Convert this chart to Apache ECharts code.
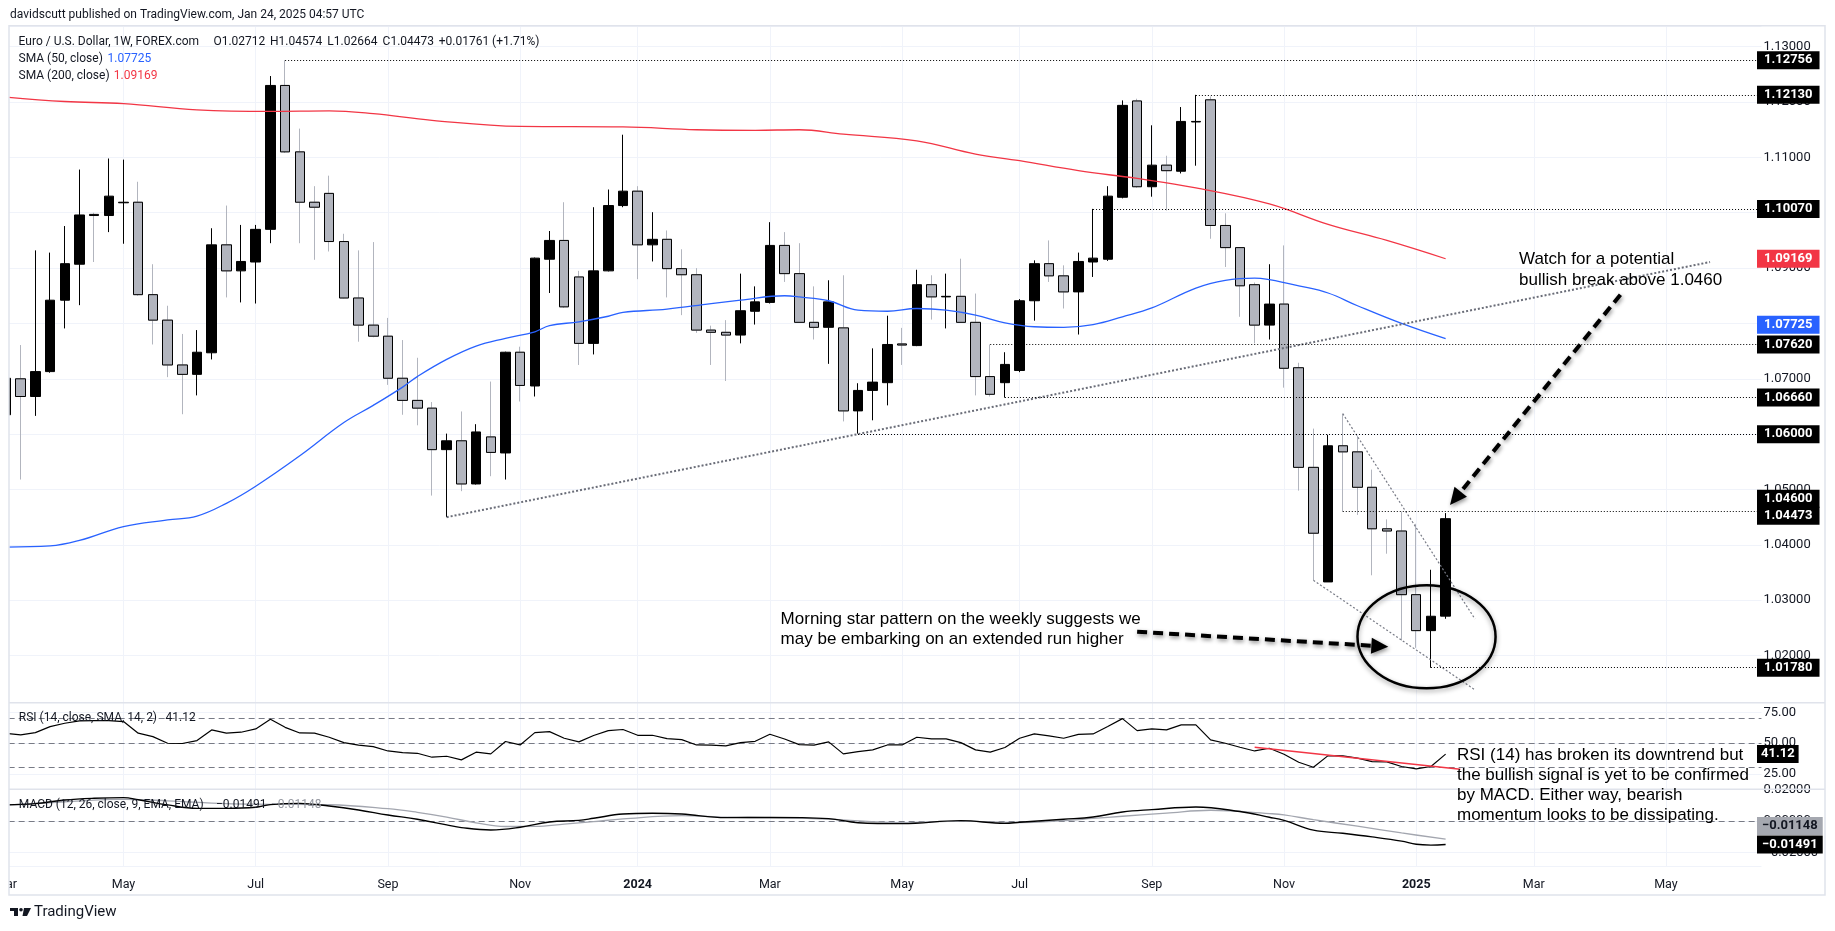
<!DOCTYPE html>
<html>
<head>
<meta charset="utf-8">
<title>EUR/USD 1W</title>
<script src="https://cdn.jsdelivr.net/npm/echarts@6/dist/echarts.min.js"></script>
<style>
  html, body { margin: 0; padding: 0; background: #ffffff; }
  #chart { width: 1835px; height: 931px; }
</style>
</head>
<body>
<div id="chart"></div>
<script>
// weekly candles, first one starts Mon 2023-03-06
const firstWeek = "2023-03-06";
const slotCount = 120;

const opens = [1.0635,1.0700,1.0668,1.0713,1.0842,1.0907,1.0997,1.0995,1.1018,1.1019,
  1.0852,1.0806,1.0725,1.0708,1.0747,1.0942,1.0895,1.0911,1.0970,1.1230,
  1.1110,1.1019,1.1035,1.0948,1.0846,1.0797,1.0777,1.0701,1.0661,1.0647,
  1.0572,1.0588,1.0510,1.0595,1.0566,1.0748,1.0687,1.0916,1.0950,1.0884,
  1.0764,1.0895,1.1013,1.1039,1.0942,1.0952,1.0899,1.0888,1.0788,1.0784,
  1.0779,1.0822,1.0838,1.0941,1.0890,1.0802,1.0793,1.0792,1.0642,1.0679,
  1.0693,1.0763,1.0760,1.0870,1.0848,1.0849,1.0802,1.0704,1.0693,1.0715,
  1.0841,1.0908,1.0886,1.0857,1.0911,1.0916,1.1028,1.1202,1.1047,1.1086,
  1.1075,1.1164,1.1204,1.0977,1.0937,1.0870,1.0797,1.0835,1.0720,1.0540,
  1.0333,1.0579,1.0568,1.0504,1.0429,1.0425,1.0310,1.0245,1.02712];
const highs = [1.0706,1.0761,1.0932,1.0928,1.0976,1.1078,1.1000,1.1098,1.1096,1.1056,
  1.0907,1.0832,1.0781,1.0788,1.0972,1.1013,1.0978,1.0978,1.1247,1.12756,
  1.1152,1.1048,1.1067,1.0962,1.0932,1.0947,1.0810,1.0770,1.0738,1.0658,
  1.0601,1.0641,1.0618,1.0695,1.0749,1.0758,1.0919,1.0967,1.1019,1.0895,
  1.1010,1.1042,1.1141,1.1048,1.1001,1.0968,1.0934,1.0900,1.0796,1.0806,
  1.0890,1.0867,1.0983,1.0965,1.0945,1.0867,1.0878,1.0887,1.0692,1.0755,
  1.0814,1.0792,1.0897,1.0887,1.0890,1.0917,1.0854,1.0762,1.0748,1.0844,
  1.0914,1.0950,1.0905,1.0928,1.1007,1.1048,1.1203,1.1206,1.1158,1.1103,
  1.1191,1.1213,1.1210,1.0999,1.0938,1.0874,1.0907,1.0941,1.0729,1.0610,
  1.0599,1.0637,1.0597,1.0536,1.0446,1.0460,1.0438,1.0355,1.04574];
const lows = [1.0600,1.0518,1.0633,1.0711,1.0791,1.0833,1.0911,1.0965,1.0944,1.0850,
  1.0762,1.0703,1.0636,1.0670,1.0735,1.0847,1.0838,1.0836,1.0945,1.1108,
  1.0945,1.0915,1.0930,1.0845,1.0767,1.0775,1.0689,1.0635,1.0616,1.0489,
  1.0450,1.0497,1.0509,1.0524,1.0518,1.0659,1.0668,1.0855,1.0828,1.0725,
  1.0744,1.0894,1.1010,1.0880,1.0912,1.0847,1.0815,1.0783,1.0725,1.0696,
  1.0764,1.0798,1.0836,1.0875,1.0801,1.0771,1.0727,1.0623,1.0601,1.0625,
  1.0652,1.0725,1.0759,1.0807,1.0791,1.0801,1.0670,1.0668,1.0666,1.0712,
  1.0805,1.0875,1.0827,1.0780,1.0884,1.0913,1.1026,1.1045,1.1029,1.1004,
  1.1071,1.1085,1.0953,1.0902,1.0812,1.0764,1.0771,1.0684,1.0498,1.0336,
  1.0333,1.0460,1.0454,1.0345,1.0384,1.0227,1.0214,1.0178,1.02664];
const closes = [1.0701,1.0668,1.0713,1.0842,1.0908,1.0996,1.0995,1.1030,1.1019,1.0852,
  1.0806,1.0725,1.0708,1.0748,1.0942,1.0895,1.0912,1.0970,1.1230,1.1110,
  1.1019,1.1010,1.0948,1.0846,1.0797,1.0777,1.0701,1.0661,1.0647,1.0572,
  1.0588,1.0510,1.0604,1.0567,1.0748,1.0688,1.0918,1.0950,1.0830,1.0764,
  1.0895,1.1013,1.1039,1.0942,1.0952,1.0899,1.0888,1.0788,1.0784,1.0779,
  1.0823,1.0839,1.0941,1.0890,1.0802,1.0793,1.0839,1.0642,1.0679,1.0694,
  1.0762,1.0761,1.0870,1.0848,1.0849,1.0802,1.0704,1.0672,1.0726,1.0841,
  1.0908,1.0886,1.0857,1.0912,1.0918,1.1030,1.1194,1.1047,1.1086,1.1076,
  1.1165,1.1165,1.0977,1.0937,1.0868,1.0797,1.0835,1.0719,1.0540,1.0421,
  1.0579,1.0568,1.0504,1.0429,1.0425,1.0310,1.0245,1.0271,1.04473];

// [week index, value]
const sma50 = [[0,1.0396],[3,1.0398],[5,1.0408],[8,1.0433],[11,1.0445],[13,1.0452],[15,1.0475],
  [17,1.0506],[20,1.0561],[23,1.0621],[25,1.0652],[27,1.0685],[28,1.0704],[30,1.0735],[32,1.0759],
  [34,1.0773],[36,1.0785],[37,1.0796],[39,1.0803],[41,1.0813],[42,1.0820],[45,1.0826],[48,1.0836],
  [50,1.0842],[53,1.0850],[54,1.0848],[56,1.0841],[58,1.0824],[60,1.0822],[62,1.0827],[64,1.0824],
  [66,1.0815],[68,1.0801],[70,1.0794],[72,1.0793],[74,1.0798],[76,1.0812],[78,1.0828],[81,1.0864],
  [83,1.0878],[85,1.0882],[86,1.0879],[88,1.0868],[90,1.0855],[92,1.0832],[95,1.0800],[98,1.07725]];
const sma200 = [[0,1.1209],[4,1.1201],[8,1.1197],[13,1.1186],[18,1.1183],[22,1.1184],[25,1.1179],
  [29,1.1167],[35,1.1156],[42,1.1155],[47,1.1150],[51,1.1149],[54,1.1150],[57,1.1142],[62,1.1130],
  [66,1.1106],[69,1.1094],[73,1.1076],[77,1.1062],[81,1.1045],[86,1.1016],[90,1.0979],[94,1.0950],
  [98,1.09169]];

const rsi = [58.0,56.8,58.7,63.6,66.3,68.2,68.5,68.5,67.7,58.2,
  55.4,50.0,49.8,52.2,60.9,58.2,59.0,61.7,69.6,63.0,
  58.4,58.2,54.9,50.5,48.4,47.3,43.7,42.4,41.8,38.6,
  39.4,36.4,42.7,41.3,51.4,48.6,58.7,59.5,54.1,51.1,
  56.3,60.3,61.2,56.5,56.5,53.8,53.0,48.6,48.4,47.8,
  50.5,51.6,57.3,53.5,48.9,48.4,51.1,41.3,43.2,44.6,
  48.6,48.6,54.9,53.5,53.5,50.5,44.6,42.7,46.5,54.1,
  57.6,56.0,54.1,57.3,57.6,63.6,70.1,60.3,61.7,60.9,
  65.0,65.0,52.7,50.0,46.7,43.7,45.9,41.0,34.5,30.4,
  39.9,39.7,37.8,35.0,34.8,31.0,29.0,31.0,41.12];

const macdLine = [[0,0.0102],[2,0.0110],[4,0.0133],[6,0.0144],[8,0.0148],[9,0.0135],[11,0.0102],
  [13,0.0080],[15,0.0080],[17,0.0087],[18,0.0104],[20,0.0112],[22,0.0095],[24,0.0070],[26,0.0038],
  [28,0.0011],[30,-0.0025],[31,-0.0042],[33,-0.0057],[35,-0.0040],[37,-0.0006],[39,0.0004],
  [40,0.0017],[42,0.0044],[44,0.0049],[46,0.0044],[49,0.0021],[52,0.0023],[56,0.0015],[58,-0.0011],
  [61,-0.0017],[65,0.0002],[68,-0.0015],[69,-0.0008],[72,0.0011],[74,0.0025],[76,0.0057],[78,0.0072],
  [81,0.0089],[84,0.0060],[86,0.0024],[87,0.0004],[89,-0.0058],[91,-0.0078],[93,-0.0101],
  [95,-0.0128],[96,-0.0148],[97,-0.0153],[98,-0.01491]];
const macdSignal = [[0,0.0100],[4,0.0122],[8,0.0137],[11,0.0128],[15,0.0110],[18,0.0106],[22,0.0103],
  [26,0.0078],[28,0.0055],[30,0.0025],[32,-0.0012],[34,-0.0035],[36,-0.0034],[38,-0.0020],
  [40,-0.0004],[42,0.0013],[46,0.0034],[49,0.0024],[52,0.0021],[56,0.0012],[61,-0.0010],
  [65,-0.0001],[69,-0.0010],[72,0.0002],[74,0.0016],[76,0.0030],[79,0.0050],[82,0.0068],
  [86,0.0047],[87,0.0039],[89,0.0008],[92,-0.0033],[95,-0.0076],[98,-0.01148]];

// drawn annotations, in [week index, value]
const trendLong = [[30,1.0450],[116,1.0911]];
const wedgeUpper = [[91,1.0637],[100,1.0266]];
const wedgeLower = [[89,1.0336],[100,1.0138]];
const rsiTrend = [[85,46.7],[99,28.8]];
const levelStarts = [19, 81, 74, 67, 68, 58, 91, 97];
const levelPrices = [1.12756, 1.12130, 1.10070, 1.07620, 1.06660, 1.06000, 1.04600, 1.01780];
const rsiBands = [70, 50, 30];

const monthIdx = [0, 8, 17, 26, 35, 43, 52, 61, 69, 78, 87, 96, 104, 113];
const monthText = ["Mar","May","Jul","Sep","Nov","2024","Mar","May","Jul","Sep","Nov","2025","Mar","May"];

const lastRsi = 41.12;
const lastMacd = -0.01491;
const lastSignal = -0.01148;

// ---------------------------------------------------------------
const weeks = [];
{
  const d0 = new Date(firstWeek + "T00:00:00Z");
  for (let i = 0; i < slotCount; i++) {
    const d = new Date(d0.getTime() + i * 7 * 86400000);
    weeks.push(d.toISOString().slice(0, 10));
  }
}

const candles = opens.map((o, i) => [o, closes[i], lows[i], highs[i]]);
const bearBodies = [];
opens.forEach((o, i) => {
  if (closes[i] < o) bearBodies.push([i, o, closes[i], closes[i], o]);
});

const FONT = "Roboto, 'Noto Sans', sans-serif";
const TEXT = "#131722";
const GRID_LINE = "#f0f3fa";
const BORDER = "#e0e3eb";

// pane layout (pixels)
const bw = 14.69;
const plotLeft = 6 - bw / 2;
const plotWidth = slotCount * bw;
const pricePane = { top: 26, bottom: 702.7 };
const rsiPane = { top: 702.7, bottom: 789.3 };
const macdPane = { top: 789.3, bottom: 866.7 };
const priceMin = 1.011481, priceMax = 1.13374;
const rsiMin = 12.4, rsiMax = 83.1;
const macdMin = -0.029, macdMax = 0.0201;

function fmtMinus(v, digits) {
  return (v < 0 ? "\u2212" : "") + Math.abs(v).toFixed(digits);
}

function paneGrid(p) {
  return { left: plotLeft, width: plotWidth, top: p.top, height: p.bottom - p.top,
    outerBoundsMode: "none", containLabel: false, show: false };
}

function indexAxis(gridIndex) {
  return { type: "value", gridIndex, min: -0.5, max: slotCount - 0.5, show: false };
}

function sideAxis(gridIndex, min, max, step, fmt) {
  return {
    type: "value", gridIndex, position: "right", min, max,
    minInterval: step, maxInterval: step,
    axisLine: { show: false }, axisTick: { show: false },
    splitLine: { show: true, lineStyle: { color: GRID_LINE, width: 1 } },
    axisLabel: { margin: 2, color: TEXT, fontSize: 13, fontFamily: FONT,
      showMinLabel: false, showMaxLabel: false, formatter: fmt },
  };
}

const verticalLines = monthIdx.map((i) => ({ xAxis: i, lineStyle: { color: GRID_LINE, type: "solid", width: 1 } }));

const option = {
  animation: false,
  backgroundColor: "#ffffff",
  textStyle: { fontFamily: FONT },
  grid: [paneGrid(pricePane), paneGrid(rsiPane), paneGrid(macdPane)],
  xAxis: [
    { type: "category", gridIndex: 0, data: weeks, show: false },
    indexAxis(0),
    indexAxis(1),
    {
      type: "category", gridIndex: 2, data: weeks,
      axisLine: { show: false }, axisTick: { show: false }, splitLine: { show: false },
      axisLabel: {
        margin: 12, color: TEXT, fontSize: 12.5, fontFamily: FONT,
        interval: (index) => monthIdx.includes(index),
        formatter: (value, index) => {
          const k = monthIdx.indexOf(index);
          if (k < 0) return "";
          const t = monthText[k];
          return /^\d{4}$/.test(t) ? "{y|" + t + "}" : t;
        },
        rich: { y: { fontWeight: "bold", fontSize: 12.5, color: TEXT, fontFamily: FONT } },
      },
    },
    indexAxis(2),
  ],
  yAxis: [
    sideAxis(0, priceMin, priceMax, 0.01, (v) => v.toFixed(5)),
    sideAxis(1, rsiMin, rsiMax, 25, (v) => v.toFixed(2)),
    sideAxis(2, macdMin, macdMax, 0.02, (v) => fmtMinus(v, 5)),
  ],
  series: [
    {
      type: "candlestick", name: "EURUSD", xAxisIndex: 0, yAxisIndex: 0,
      data: candles, barWidth: 10, z: 2,
      itemStyle: { color: "#000000", color0: "#b2b5be", borderColor: "#000000", borderColor0: "#b2b5be", borderWidth: 1 },
    },
    {
      type: "candlestick", name: "bear bodies", xAxisIndex: 0, yAxisIndex: 0,
      data: bearBodies, encode: { x: 0, y: [1, 2, 3, 4] }, barWidth: 10, z: 3,
      itemStyle: { color: "#000000", color0: "#b2b5be", borderColor: "#000000", borderColor0: "#000000", borderWidth: 1 },
    },
    {
      type: "line", name: "SMA 200", xAxisIndex: 1, yAxisIndex: 0, data: sma200,
      showSymbol: false, smooth: 0.4, z: 4, lineStyle: { color: "#f23645", width: 1.3 },
      markLine: {
        silent: true, symbol: ["none", "none"], label: { show: false },
        data: levelPrices.map((p, k) => [
          { coord: [levelStarts[k], p], lineStyle: { color: "#000000", type: [1, 2], width: 1 } },
          { coord: [119.2, p] },
        ]),
      },
    },
    {
      type: "line", name: "SMA 50", xAxisIndex: 1, yAxisIndex: 0, data: sma50,
      showSymbol: false, smooth: 0.4, z: 4, lineStyle: { color: "#2962ff", width: 1.3 },
      markLine: { silent: true, z: 1, symbol: ["none", "none"], label: { show: false }, data: verticalLines },
    },
    {
      type: "line", name: "trend", xAxisIndex: 1, yAxisIndex: 0, data: trendLong,
      showSymbol: false, z: 4, lineStyle: { color: "#6a6d78", width: 2, type: [2, 2] },
    },
    {
      type: "line", name: "wedge top", xAxisIndex: 1, yAxisIndex: 0, data: wedgeUpper,
      showSymbol: false, z: 4, lineStyle: { color: "#787b86", width: 1.2, type: [2, 2] },
    },
    {
      type: "line", name: "wedge bottom", xAxisIndex: 1, yAxisIndex: 0, data: wedgeLower,
      showSymbol: false, z: 4, lineStyle: { color: "#787b86", width: 1.2, type: [2, 2] },
    },
    {
      type: "line", name: "RSI", xAxisIndex: 2, yAxisIndex: 1, data: rsi.map((v, i) => [i, v]),
      showSymbol: false, z: 3, lineStyle: { color: "#000000", width: 1.2 },
      markLine: {
        silent: true, z: 1, symbol: ["none", "none"], label: { show: false },
        data: verticalLines.concat(rsiBands.map((b) => ({ yAxis: b, lineStyle: { color: "#787b86", type: [6, 4], width: 1 } }))),
      },
    },
    {
      type: "line", name: "RSI trend", xAxisIndex: 2, yAxisIndex: 1, data: rsiTrend,
      showSymbol: false, z: 4, lineStyle: { color: "#f23645", width: 1.5 },
    },
    {
      type: "line", name: "Signal", xAxisIndex: 4, yAxisIndex: 2, data: macdSignal,
      showSymbol: false, smooth: 0.4, z: 3, lineStyle: { color: "#a3a6af", width: 1.3 },
      markLine: {
        silent: true, z: 1, symbol: ["none", "none"], label: { show: false },
        data: verticalLines.concat([{ yAxis: 0, lineStyle: { color: "#787b86", type: [6, 4], width: 1 } }]),
      },
    },
    {
      type: "line", name: "MACD", xAxisIndex: 4, yAxisIndex: 2, data: macdLine,
      showSymbol: false, smooth: 0.4, z: 4, lineStyle: { color: "#000000", width: 1.4 },
    },
  ],
};

const chart = echarts.init(document.getElementById("chart"));
chart.setOption(option);

// ---- overlays: frame, legends, price boxes, notes
const PRICE_SERIES = 2;
const toPx = (s, pt) => chart.convertToPixel({ seriesIndex: s }, pt);
const yOf = (axis, v) => chart.convertToPixel({ yAxisIndex: axis }, v);

function label(text, x, y, opts = {}) {
  return {
    type: "text", z: 120, silent: true, x, y,
    style: Object.assign({ text, fill: TEXT, font: "12px " + FONT, align: "left", verticalAlign: "middle" }, opts),
  };
}

function box(text, y, bg, fg, padX) {
  const p = padX == null ? 7 : padX;
  return {
    type: "text", z: 130, silent: true, x: 1757, y,
    style: { text, fill: fg || "#ffffff", backgroundColor: bg, padding: [3, p, 2, p],
      font: "bold 13px " + FONT, align: "left", verticalAlign: "middle" },
  };
}

function arrow(from, to) {
  const a = toPx(PRICE_SERIES, from), b = toPx(PRICE_SERIES, to);
  const dx = b[0] - a[0], dy = b[1] - a[1], len = Math.hypot(dx, dy);
  const ux = dx / len, uy = dy / len, head = 17, half = 8;
  const bx = b[0] - ux * head, by = b[1] - uy * head;
  const shadow = { shadowBlur: 4, shadowColor: "rgba(0,0,0,0.45)", shadowOffsetX: 1, shadowOffsetY: 2 };
  return [
    { type: "line", z: 110, silent: true,
      shape: { x1: a[0], y1: a[1], x2: bx + ux * 2, y2: by + uy * 2 },
      style: Object.assign({ stroke: "#000000", lineWidth: 4, lineDash: [10, 6] }, shadow) },
    { type: "polygon", z: 110, silent: true,
      shape: { points: [[b[0], b[1]], [bx - uy * half, by + ux * half], [bx + uy * half, by - ux * half]] },
      style: Object.assign({ fill: "#000000" }, shadow) },
  ];
}

const arrowNotes = [
  { from: [109.9, 1.0852], to: [98.3, 1.0472] },
  { from: [77.0, 1.0243], to: [94.1, 1.0216] },
];
const circleNote = { center: [96.7, 1.0234], rx: 4.7, ry: 0.0093 };

function buildOverlay() {
  const g = [];
  // clip strip left of the frame + frame and pane separators
  g.push({ type: "rect", z: 100, silent: true, shape: { x: 0, y: 0, width: 9, height: 931 }, style: { fill: "#ffffff" } });
  g.push({ type: "rect", z: 101, silent: true, shape: { x: 9, y: 25.7, width: 1816, height: 869.3 },
    style: { fill: "none", stroke: BORDER, lineWidth: 1.5 } });
  [pricePane.bottom, rsiPane.bottom].forEach((y) => {
    g.push({ type: "line", z: 101, silent: true, shape: { x1: 9, y1: y, x2: 1825, y2: y }, style: { stroke: BORDER, lineWidth: 1.5 } });
  });

  // header + legends
  g.push(label("davidscutt published on TradingView.com, Jan 24, 2025 04:57 UTC", 10, 15));
  g.push(label("Euro / U.S. Dollar, 1W, FOREX.com", 18.6, 42.3));
  [["O1.02712", 213.4], ["H1.04574", 270], ["L1.02664", 327.3], ["C1.04473", 382.6], ["+0.01761 (+1.71%)", 438.7]]
    .forEach(([t, x]) => g.push(label(t, x, 42.3)));
  g.push(label("SMA (50, close)", 18.6, 59));
  g.push(label(sma50[sma50.length - 1][1].toFixed(5), 107.5, 59, { fill: "#2962ff" }));
  g.push(label("SMA (200, close)", 18.6, 76));
  g.push(label(sma200[sma200.length - 1][1].toFixed(5), 113.8, 76, { fill: "#f23645" }));
  g.push(label("RSI (14, close, SMA, 14, 2)", 18.8, 718.3));
  g.push(label(lastRsi.toFixed(2), 165.5, 718.3));
  g.push(label("MACD (12, 26, close, 9, EMA, EMA)", 18.8, 805));
  g.push(label(fmtMinus(lastMacd, 5), 216, 805));
  g.push(label(fmtMinus(lastSignal, 5), 271, 805, { fill: "#9598a1" }));

  // price scale boxes
  const shifts = { "1.04600": -13 };
  levelPrices.forEach((p) => {
    const t = p.toFixed(5);
    g.push(box(t, yOf(0, p) + (shifts[t] || 0), "#000000"));
  });
  g.push(box(sma200[sma200.length - 1][1].toFixed(5), yOf(0, sma200[sma200.length - 1][1]), "#f23645"));
  g.push(box(sma50[sma50.length - 1][1].toFixed(5), yOf(0, sma50[sma50.length - 1][1]) - 14, "#2962ff"));
  g.push(box(closes[closes.length - 1].toFixed(5), yOf(0, closes[closes.length - 1]) - 3, "#000000"));
  g.push(box(lastRsi.toFixed(2), yOf(1, lastRsi), "#000000", "#ffffff", 4));
  g.push(box(fmtMinus(lastSignal, 5), yOf(2, lastSignal) - 13, "#a5a8b0", TEXT, 5));
  g.push(box(fmtMinus(lastMacd, 5), yOf(2, lastMacd), "#000000", "#ffffff", 5));

  // notes
  const noteFont = "17px 'Liberation Sans', Arial, sans-serif";
  g.push(label("Watch for a potential\nbullish break above 1.0460", 1519, 270, { font: noteFont, fill: "#000000", lineHeight: 21 }));
  g.push(label("Morning star pattern on the weekly suggests we\nmay be embarking on an extended run higher", 780.6, 629, { font: noteFont, fill: "#000000", lineHeight: 20 }));
  g.push(label("RSI (14) has broken its downtrend but\nthe bullish signal is yet to be confirmed\nby MACD. Either way, bearish\nmomentum looks to be dissipating.", 1457, 785, { font: noteFont, fill: "#000000", lineHeight: 20 }));

  arrowNotes.forEach((a) => arrow(a.from, a.to).forEach((e) => g.push(e)));
  const c = toPx(PRICE_SERIES, circleNote.center);
  const cx2 = toPx(PRICE_SERIES, [circleNote.center[0] + circleNote.rx, circleNote.center[1] + circleNote.ry]);
  g.push({ type: "ellipse", z: 110, silent: true,
    shape: { cx: c[0], cy: c[1], rx: Math.abs(cx2[0] - c[0]), ry: Math.abs(cx2[1] - c[1]) },
    style: { fill: "none", stroke: "#000000", lineWidth: 2.5, shadowBlur: 5, shadowColor: "rgba(0,0,0,0.4)", shadowOffsetY: 2 } });

  // TradingView mark
  g.push({ type: "rect", z: 120, silent: true, shape: { x: 10, y: 908, width: 8, height: 3 }, style: { fill: "#131722" } });
  g.push({ type: "rect", z: 120, silent: true, shape: { x: 14, y: 908, width: 4, height: 8 }, style: { fill: "#131722" } });
  g.push({ type: "circle", z: 120, silent: true, shape: { cx: 21, cy: 909.8, r: 1.8 }, style: { fill: "#131722" } });
  g.push({ type: "polygon", z: 120, silent: true, shape: { points: [[24, 908], [31, 908], [27, 916], [22.5, 916]] }, style: { fill: "#131722" } });
  g.push(label("TradingView", 34, 912.5, { font: "15px " + FONT, fill: "#131722" }));
  return g;
}

chart.setOption({ graphic: buildOverlay() });
</script>
</body>
</html>
